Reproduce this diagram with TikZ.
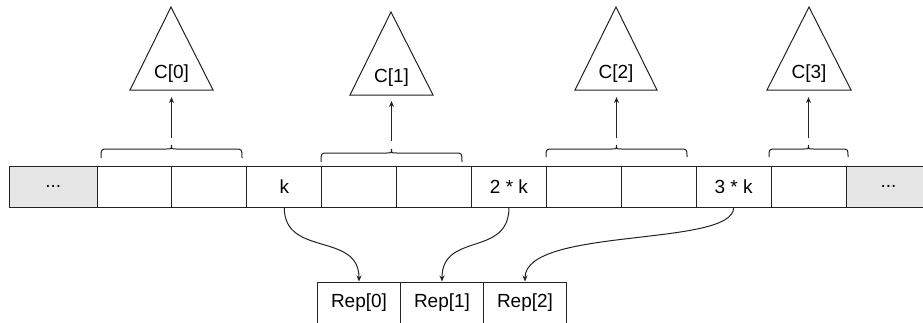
\documentclass[tikz,border=0pt]{standalone}
\usepackage{fontspec}
\setmainfont{Liberation Sans}
\usetikzlibrary{arrows.meta}
\definecolor{cellgray}{HTML}{E6E6E6}
\definecolor{ink}{HTML}{222222}
\tikzset{
  cellbox/.style={draw=ink, line width=1pt, minimum height=41pt, inner sep=0pt, anchor=west, font=\fontsize{19}{22}\selectfont},
  graycell/.style={cellbox, fill=cellgray},
  repbox/.style={cellbox, minimum width=83pt},
  tri/.style={draw=ink, line width=1pt, line join=miter},
  bracestyle/.style={draw=ink, line width=1pt},
  uparrow/.style={draw=ink, line width=1pt, -{Stealth[length=6pt,width=5pt]}},
  curvearrow/.style={draw=ink, line width=1pt, -{Stealth[length=6pt,width=5pt]}},
  lbl/.style={font=\fontsize{19}{22}\selectfont, inner sep=0pt}
}
\newcommand\cbrace[4]{%
  \draw[bracestyle] (#1,#3) .. controls (#1,#4) .. ({#1+7},#4)
    -- ({(#1+#2)/2-5},#4) .. controls ({(#1+#2)/2},#4) .. ({(#1+#2)/2},{#4-4})
    .. controls ({(#1+#2)/2},#4) .. ({(#1+#2)/2+5},#4)
    -- ({#2-7},#4) .. controls (#2,#4) .. (#2,#3);}
\begin{document}
\begin{tikzpicture}[x=1pt,y=-1pt]
\useasboundingbox (0,0) rectangle (923,322);
\clip (0,0) rectangle (923,322);
% array cells
\node[graycell, minimum width=87.5pt] (c0) at (9,186.5) {...};
\node[cellbox, minimum width=74.9pt] (c1) at (96.5,186.5) {};
\node[cellbox, minimum width=74.9pt] (c2) at (171.4,186.5) {};
\node[cellbox, minimum width=74.9pt] (c3) at (246.3,186.5) {k};
\node[cellbox, minimum width=74.9pt] (c4) at (321.2,186.5) {};
\node[cellbox, minimum width=74.9pt] (c5) at (396.1,186.5) {};
\node[cellbox, minimum width=74.9pt] (c6) at (471.0,186.5) {2 * k};
\node[cellbox, minimum width=74.9pt] (c7) at (545.9,186.5) {};
\node[cellbox, minimum width=74.9pt] (c8) at (620.8,186.5) {};
\node[cellbox, minimum width=74.9pt] (c9) at (695.7,186.5) {3 * k};
\node[cellbox, minimum width=74.9pt] (c10) at (770.6,186.5) {};
\node[graycell, minimum width=85pt] (c11) at (845.5,186.5) {...};
% rep cells
\node[repbox] (r0) at (317,302.5) {Rep[0]};
\node[repbox] (r1) at (400,302.5) {Rep[1]};
\node[repbox] (r2) at (483,302.5) {Rep[2]};
% triangles
\draw[tri] (171,7) -- (213,90) -- (130,90) -- cycle;
\node[lbl] (t0) at (171.5,73.5) {C[0]};
\draw[tri] (391,12) -- (433,95) -- (350,95) -- cycle;
\node[lbl] (t1) at (391.5,78) {C[1]};
\draw[tri] (616,7) -- (657,90) -- (575,90) -- cycle;
\node[lbl] (t2) at (616,73.5) {C[2]};
\draw[tri] (809,7) -- (851,90) -- (767,90) -- cycle;
\node[lbl] (t3) at (809,73.5) {C[3]};
% braces
\cbrace{101}{242}{158}{149}
\cbrace{321}{462}{162}{153}
\cbrace{546}{687}{157}{149}
\cbrace{769}{848}{157}{149}
% arrow endpoints
\coordinate (b0) at (171.5,138);
\coordinate (a0) at (171.5,97);
\coordinate (b1) at (391.5,141);
\coordinate (a1) at (391.5,101);
\coordinate (b2) at (616.5,138);
\coordinate (a2) at (616.5,97);
\coordinate (b3) at (808.5,138);
\coordinate (a3) at (808.5,97);
\draw[uparrow] (b0) -- (a0);
\draw[uparrow] (b1) -- (a1);
\draw[uparrow] (b2) -- (a2);
\draw[uparrow] (b3) -- (a3);
% curved arrows
\draw[curvearrow] (c3.south) .. controls ([yshift=-50pt]c3.south) and ([yshift=50pt]r0.north) .. (r0.north);
\draw[curvearrow] (c6.south) .. controls ([yshift=-50pt]c6.south) and ([yshift=50pt]r1.north) .. (r1.north);
\draw[curvearrow] (c9.south) .. controls ([yshift=-40pt]c9.south) and ([yshift=55pt]r2.north) .. (r2.north);
\end{tikzpicture}
\end{document}
